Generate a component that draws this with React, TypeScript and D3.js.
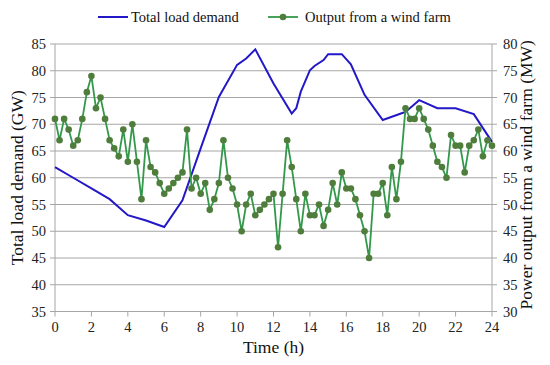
import React from "react";
import * as d3 from "d3";

const loadHours = [0, 1, 2, 3, 4, 5, 6, 7, 8, 9, 10, 10.5, 11, 12, 13, 13.25, 13.5, 14, 14.25, 14.75, 15, 15.75, 16.25, 17, 18, 19, 19.25, 20, 21, 22, 23, 24];
const loadValues = [62, 60, 58, 56, 53, 52, 50.8, 55.8, 65.5, 75.1, 81.1, 82.3, 84, 77.6, 72, 73, 76.1, 80.1, 80.9, 82, 83.1, 83.1, 81.2, 75.5, 70.8, 72, 72.3, 74.5, 73, 73, 71.9, 66.7];

const windStep = 0.25;
const windValues = [
  66, 62, 66, 64, 61, 62, 66, 71, 74, 68, 70, 66, 62, 60.5, 59, 64,
  58, 65, 58, 51, 62, 57, 56, 54, 52, 53, 54, 55, 56, 64, 53, 55,
  52, 54, 49, 51, 54, 62, 55, 53, 50, 45, 50, 52, 48, 49, 50, 51,
  52, 42, 52, 62, 57, 51, 45, 52, 48, 48, 50, 46, 49, 54, 50, 56,
  53, 53, 51, 48, 45, 40, 52, 52, 54, 48, 57, 51, 58, 68, 66, 66,
  68, 66, 64, 61, 58, 57, 55, 63, 61, 61, 56, 61, 62, 64, 59, 62,
  61,
];

const xTicks = [0, 2, 4, 6, 8, 10, 12, 14, 16, 18, 20, 22, 24];
const leftTicks = [35, 40, 45, 50, 55, 60, 65, 70, 75, 80, 85];
const rightTicks = [30, 35, 40, 45, 50, 55, 60, 65, 70, 75, 80];

const seriesNames = ["Total load demand", "Output from a wind farm"];
const axisTitles = { x: "Time (h)", left: "Total load demand (GW)", right: "Power output from a wind farm (MW)" };

export default function App() {
  const L = 55, R = 492, T = 44, B = 311.5;
  const x = d3.scaleLinear().domain([0, 24]).range([L, R]);
  const yL = d3.scaleLinear().domain([35, 85]).range([B, T]);
  const yR = d3.scaleLinear().domain([30, 80]).range([B, T]);

  const loadPts: [number, number][] = loadHours.map((h, i) => [h, loadValues[i]]);
  const windPts: [number, number][] = windValues.map((v, i) => [i * windStep, v]);

  const loadLine = d3.line<[number, number]>().x(d => x(d[0])).y(d => yL(d[1]));
  const windLine = d3.line<[number, number]>().x(d => x(d[0])).y(d => yR(d[1]));

  const ts = { fontFamily: "'Liberation Serif', 'Times New Roman', serif" };
  const grid = "#a6a6a6";
  const blue = "#2318c8";
  const greenLine = "#33984a";
  const greenDot = "#4f7d3c";

  return (
    <svg width={550} height={365} style={{ position: "absolute", left: 0, top: 0, background: "#fff" }}>
      {leftTicks.map(t => (
        <line key={"g" + t} x1={L} x2={R} y1={yL(t)} y2={yL(t)} stroke={grid} strokeWidth={1} />
      ))}
      <line x1={L} x2={L} y1={T} y2={B} stroke={grid} />
      <line x1={R} x2={R} y1={T} y2={B} stroke={grid} />
      <line x1={L} x2={R} y1={B} y2={B} stroke={grid} />
      {leftTicks.map(t => (
        <g key={"lt" + t}>
          <line x1={L - 5} x2={L} y1={yL(t)} y2={yL(t)} stroke={grid} />
          <text style={ts} x={L - 9} y={yL(t) + 5} textAnchor="end" fontSize={14.5} fill="#222">{t}</text>
        </g>
      ))}
      {rightTicks.map(t => (
        <g key={"rt" + t}>
          <line x1={R} x2={R + 5} y1={yR(t)} y2={yR(t)} stroke={grid} />
          <text style={ts} x={R + 11} y={yR(t) + 5} textAnchor="start" fontSize={14.5} fill="#222">{t}</text>
        </g>
      ))}
      {xTicks.map(t => (
        <g key={"xt" + t}>
          <line x1={x(t)} x2={x(t)} y1={B} y2={B + 5} stroke={grid} />
          <text style={ts} x={x(t)} y={B + 20} textAnchor="middle" fontSize={14.5} fill="#222">{t}</text>
        </g>
      ))}

      <path d={loadLine(loadPts) || ""} fill="none" stroke={blue} strokeWidth={2} />
      <path d={windLine(windPts) || ""} fill="none" stroke={greenLine} strokeWidth={1.8} />
      {windPts.map((p, i) => (
        <circle key={"w" + i} cx={x(p[0])} cy={yR(p[1])} r={3.3} fill={greenDot} />
      ))}

      <text style={ts} x={(L + R) / 2} y={353} textAnchor="middle" fontSize={17.5} fill="#111">{axisTitles.x}</text>
      <text style={ts} transform={`translate(23, ${(T + B) / 2}) rotate(-90)`} textAnchor="middle" fontSize={17.5} fill="#111">{axisTitles.left}</text>
      <text style={ts} transform={`translate(532, ${(T + B) / 2 - 3}) rotate(-90)`} textAnchor="middle" fontSize={17.5} fill="#111">{axisTitles.right}</text>

      <line x1={98} x2={128} y1={17} y2={17} stroke={blue} strokeWidth={2} />
      <text style={ts} x={131} y={22} fontSize={14.5} fill="#111">{seriesNames[0]}</text>
      <line x1={268} x2={298} y1={17} y2={17} stroke={greenLine} strokeWidth={1.8} />
      <circle cx={283} cy={17} r={3.3} fill={greenDot} />
      <text style={ts} x={305} y={22} fontSize={14.5} fill="#111">{seriesNames[1]}</text>
    </svg>
  );
}
